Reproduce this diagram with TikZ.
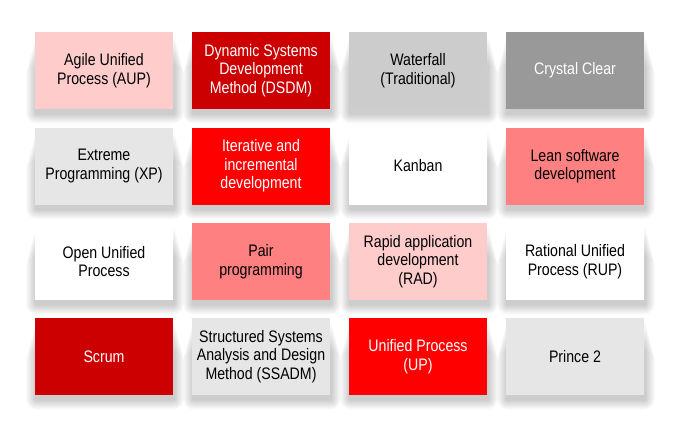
\documentclass[tikz,border=0pt]{standalone}
\usepackage{fontspec}
\setmainfont[FakeStretch=0.85]{Liberation Sans}
\usepackage{tikz}
\definecolor{mypink}{HTML}{FFCCCC}
\definecolor{mydarkred}{HTML}{CC0000}
\definecolor{mylightgray}{HTML}{CCCCCC}
\definecolor{mydarkgray}{HTML}{999999}
\definecolor{mypalegray}{HTML}{E6E6E6}
\definecolor{myred}{HTML}{FF0000}
\definecolor{mysalmon}{HTML}{FF8080}

\tikzset{
  method/.style={minimum width=103.5pt,minimum height=57.75pt,inner sep=0pt,
    align=center,font=\fontsize{12.5}{13.8}\selectfont},
  softshadow/.style={black,opacity=0.018}
}

\begin{document}
\begin{tikzpicture}[x=0.75pt,y=0.75pt]
  \useasboundingbox[fill=white] (0,0) rectangle (678,444);
  \foreach \mn/\mx/\my/\mf/\mt/\ml in {
      aup/104/373.5/mypink/black/{Agile Unified\\Process (AUP)},
      dsdm/261/373.5/mydarkred/white/{Dynamic Systems\\Development\\Method (DSDM)},
      waterfall/418/373.5/mylightgray/black/{Waterfall\\(Traditional)},
      crystal/575/373.5/mydarkgray/white/{Crystal Clear},
      xp/104/278/mypalegray/black/{Extreme\\Programming (XP)},
      iterative/261/278/myred/white/{Iterative and\\incremental\\development},
      kanban/418/278/white/black/{Kanban},
      lean/575/278/mysalmon/black/{Lean software\\development},
      openup/104/182.5/white/black/{Open Unified\\Process},
      pair/261/182.5/mysalmon/black/{Pair\\programming},
      rad/418/182.5/mypink/black/{Rapid application\\development\\(RAD)},
      rup/575/182.5/white/black/{Rational Unified\\Process (RUP)},
      scrum/104/87.5/mydarkred/white/{Scrum},
      ssadm/261/87.5/mypalegray/black/{Structured Systems\\Analysis and Design\\Method (SSADM)},
      up/418/87.5/myred/white/{Unified Process\\(UP)},
      prince/575/87.5/mypalegray/black/{Prince 2}} {
    % soft shadow under the box
    \foreach \s in {1,...,10}
      \fill[softshadow,rounded corners=\s*0.8pt]
        (\mx-68-\s,\my-43-\s) rectangle (\mx+70+\s,\my+36-3*\s);
    \node[method,fill=\mf,text=\mt] (\mn) at (\mx,\my) {\ml};}
\end{tikzpicture}
\end{document}
